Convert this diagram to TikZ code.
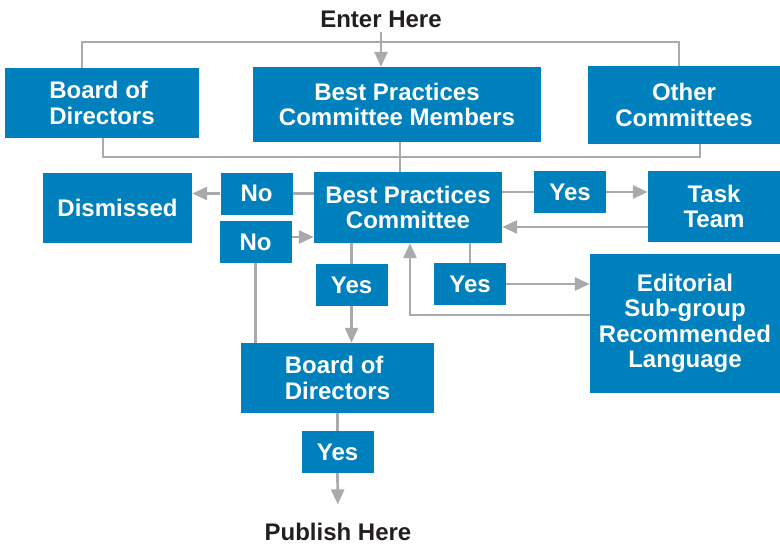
\documentclass[tikz,border=0pt]{standalone}
\usepackage{fontspec}
\setmainfont{Liberation Sans}
\usepackage{xcolor}
\definecolor{bp_blue}{RGB}{0, 128, 188}
\definecolor{bp_gray}{RGB}{168, 170, 173}
\definecolor{bp_dark}{RGB}{35, 31, 32}
\usepackage{tikz}
\usetikzlibrary{arrows.meta, calc}

\begin{document}
\begin{tikzpicture}[x=1pt, y=-1pt,
        box/.style={rectangle, fill=bp_blue, text=white, inner sep=0pt,
                    font=\fontsize{24}{25.5}\selectfont\bfseries, align=center},
        tag/.style={box, minimum width=72pt, minimum height=42pt},
        lbl/.style={inner sep=0pt, text=bp_dark,
                    font=\fontsize{24}{25.5}\selectfont\bfseries},
        ln/.style={bp_gray, line width=2.7pt},
        arr/.style={ln, -{Triangle[length=15pt, width=13pt]}},
      ]
        \useasboundingbox (0,0) rectangle (780,547);

        \node[lbl, anchor=base] (enter) at (381, 27) {Enter Here};

        \node[box, align=left, minimum width=194pt, minimum height=70pt] (bod)
          at (102, 103) {Board of\\Directors};
        \node[box, minimum width=288pt, minimum height=75pt] (bpcm)
          at (397, 104.5) {Best Practices\\Committee Members};
        \node[box, minimum width=192pt, minimum height=78pt] (other)
          at (684, 105) {Other\\Committees};

        \node[box, minimum width=149pt, minimum height=70pt] (dism)
          at (117.5, 208) {Dismissed};
        \node[tag] (no1) at (256.5, 193.5) {No};
        \node[box, minimum width=188pt, minimum height=71pt] (bpc)
          at (408, 207.5) {Best Practices\\Committee};
        \node[tag] (yes1) at (570, 192) {Yes};
        \node[box, minimum width=132pt, minimum height=71pt] (task)
          at (714, 206.5) {Task\\Team};

        \node[tag] (no2)  at (255.5, 242) {No};
        \node[tag] (yes2) at (351.5, 285) {Yes};
        \node[tag] (yes3) at (470, 284) {Yes};
        \node[box, minimum width=190pt, minimum height=139pt] (edit)
          at (685, 323.5) {Editorial\\Sub-group\\Recommended\\Language};

        \node[box, align=left, minimum width=193pt, minimum height=70pt] (bod2)
          at (337.5, 378) {Board of\\Directors};
        \node[tag] (yes4) at (337.5, 452) {Yes};

        \node[lbl, anchor=base] (publish) at (338, 540) {Publish Here};

        \coordinate (tl) at (82, 42);
        \coordinate (tr) at (679, 42);
        \coordinate (bl) at (103, 157);
        \coordinate (br) at (700, 157);

        \draw[ln] (bod.north -| tl) -- (tl) -- (tr) -- (other.north -| tr);
        \draw[arr, shorten <=5pt] (enter.south) -- (enter.south |- bpcm.north);
        \draw[ln] (bod.south -| bl) -- (bl) -- (br) -- (other.south -| br);
        \draw[ln] ([xshift=3pt]bpcm.south) -- ([xshift=3pt]bpcm.south |- bpc.north);

        \draw[ln]  (bpc.west |- no1.east) -- (no1.east);
        \draw[arr] (no1.west) -- (no1.west -| dism.east);
        \draw[ln]  (bpc.east |- yes1.west) -- (yes1.west);
        \draw[arr] (yes1.east) -- (yes1.east -| task.west);
        \draw[arr] ([yshift=-20.5pt]task.west) -- ([yshift=-20.5pt]task.west -| bpc.east);

        \draw[arr] ([yshift=5pt]no2.east) -- ([yshift=5pt]no2.east -| bpc.west);
        \draw[ln]  (no2.south) -- (no2.south |- bod2.north);
        \draw[ln]  (bpc.south -| yes2.north) -- (yes2.north);
        \draw[arr] (yes2.south) -- (yes2.south |- bod2.north);
        \draw[ln]  (bpc.south -| yes3.north) -- (yes3.north);
        \draw[arr] (yes3.east) -- (yes3.east -| edit.west);
        \draw[arr] ([yshift=8.5pt]edit.west) -| ([xshift=2pt]bpc.south);

        \draw[ln] (bod2.south) -- (yes4.north);
        \draw[arr, shorten >=18pt] (yes4.south) -- (publish.north);
      \end{tikzpicture}
\end{document}
